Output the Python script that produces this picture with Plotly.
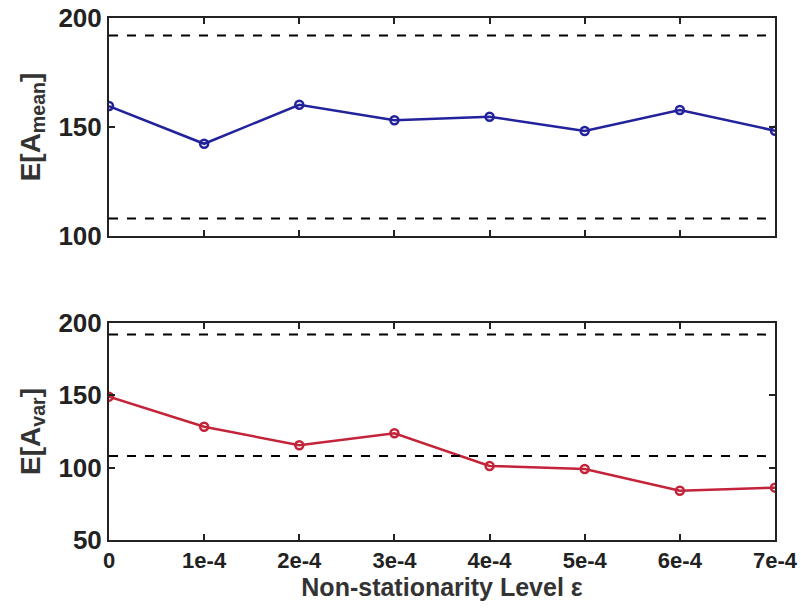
import plotly.graph_objects as go
from plotly.subplots import make_subplots

eps = [0, 1e-4, 2e-4, 3e-4, 4e-4, 5e-4, 6e-4, 7e-4]
eps_labels = ["0", "1e-4", "2e-4", "3e-4", "4e-4", "5e-4", "6e-4", "7e-4"]
a_mean = [159.6, 142.3, 160.2, 153.1, 154.7, 148.2, 157.8, 148.3]
a_var = [149.1, 128.3, 115.5, 123.8, 101.2, 99.1, 84.1, 86.2]
upper_bound = 192
lower_bound = 108

FONT = "Liberation Sans"

fig = make_subplots(rows=2, cols=1, vertical_spacing=0.1667)
fig.add_trace(go.Scatter(x=eps, y=a_mean, mode="lines+markers",
                         line=dict(color="#22229c", width=2.5),
                         marker=dict(symbol="circle-open", size=8, color="#22229c", line=dict(width=2.5))),
              row=1, col=1)
fig.add_trace(go.Scatter(x=eps, y=a_var, mode="lines+markers",
                         line=dict(color="#c4243a", width=2.5),
                         marker=dict(symbol="circle-open", size=8, color="#c4243a", line=dict(width=2.5))),
              row=2, col=1)

for r in (1, 2):
    for b in (upper_bound, lower_bound):
        fig.add_hline(y=b, line=dict(color="black", width=2, dash="dash"), row=r, col=1)

axis_common = dict(showline=True, linecolor="#222", linewidth=2, mirror="ticks",
                   ticks="inside", ticklen=6, tickwidth=2, tickcolor="#222",
                   showgrid=False, zeroline=False, automargin=False,
                   ticklabeloverflow="allow")

title_font = dict(family=FONT, size=25, color="#333", weight="bold")
ytitle_font = dict(family=FONT, size=28, color="#333", weight="bold")

fig.update_xaxes(range=[0, 7e-4], tickvals=eps, ticktext=eps_labels,
                 tickfont=dict(family=FONT, size=22, color="#222", weight="bold"), **axis_common)
fig.update_xaxes(showticklabels=False, row=1, col=1)
fig.update_xaxes(title=dict(text="Non-stationarity Level ε", standoff=2, font=title_font),
                 row=2, col=1)
fig.update_yaxes(tickfont=dict(family=FONT, size=26, color="#222", weight="bold"), **axis_common)
fig.update_yaxes(range=[100, 200], tickvals=[100, 150, 200], row=1, col=1,
                 title=dict(text="E[A<sub>mean</sub>]", standoff=10, font=ytitle_font))
fig.update_yaxes(range=[50, 200], tickvals=[50, 100, 150, 200], row=2, col=1,
                 title=dict(text="E[A<sub>var</sub>]", standoff=10, font=ytitle_font))

fig.update_layout(width=801, height=611, showlegend=False,
                  margin=dict(l=109, r=26, t=18, b=71),
                  paper_bgcolor="white", plot_bgcolor="white")
fig.layout.yaxis.domain = [0.5824, 1.0]
fig.layout.yaxis2.domain = [0.0, 0.4157]

fig.write_html("out.html")
